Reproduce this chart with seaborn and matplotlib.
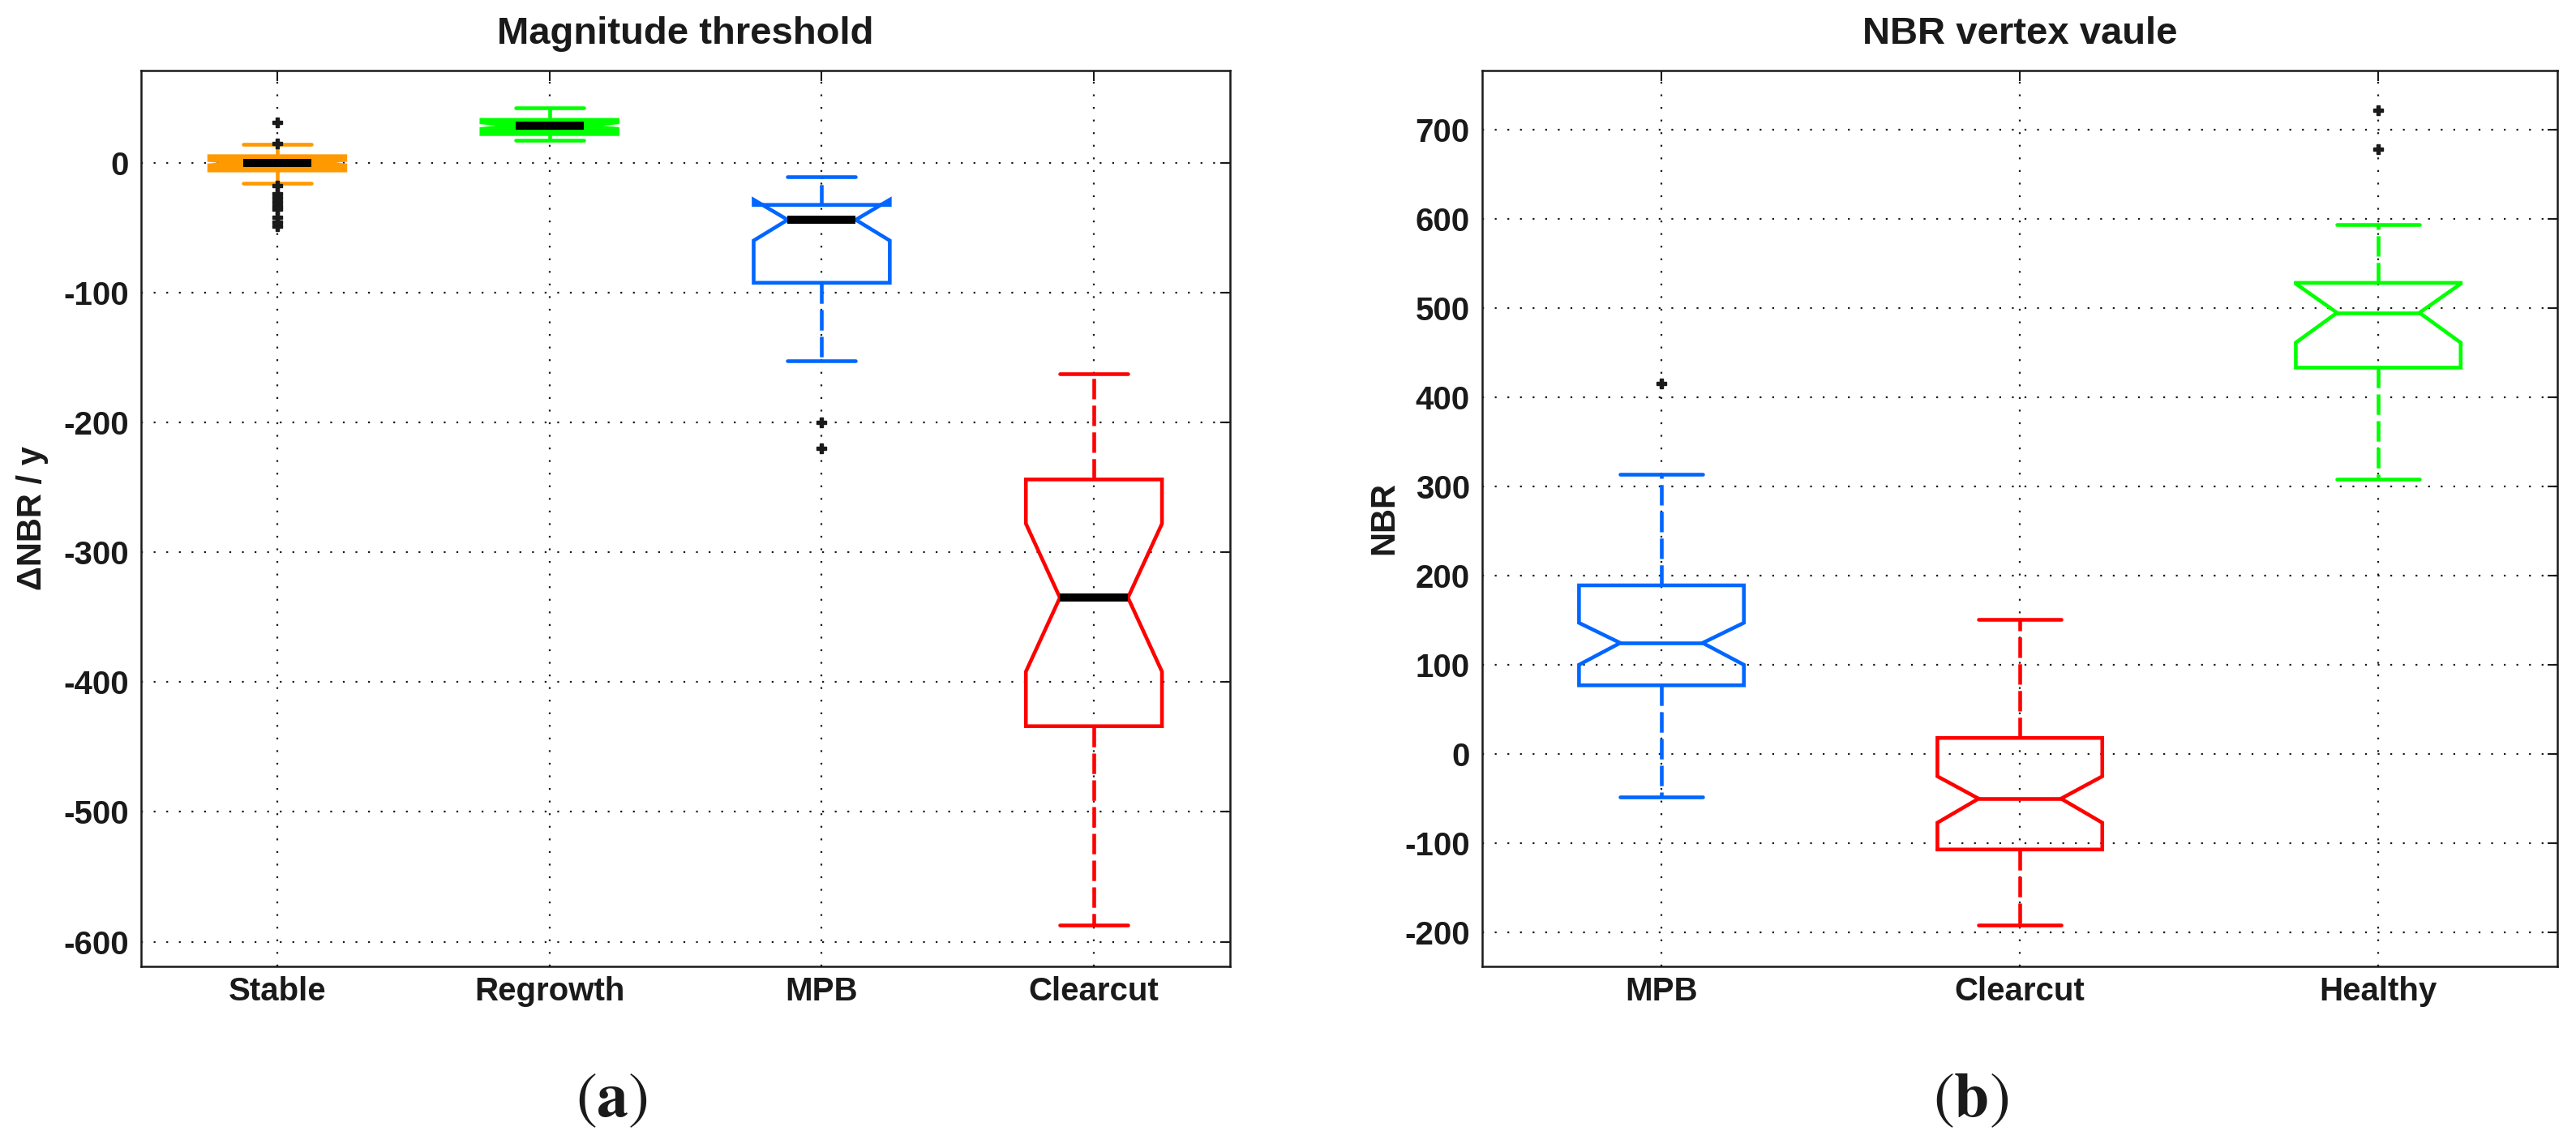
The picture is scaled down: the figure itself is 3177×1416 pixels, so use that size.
import numpy as np
import pandas as pd
import seaborn as sns
import matplotlib.pyplot as plt

sns.set_theme(style="white")
plt.rcParams['font.family'] = ['Liberation Sans', 'DejaVu Sans']
plt.rcParams['mathtext.fontset'] = 'stix'
plt.rcParams['axes.unicode_minus'] = False
plt.rcParams['text.color'] = 'k'
plt.rcParams['axes.labelcolor'] = 'k'
plt.rcParams['axes.titlecolor'] = 'k'

# (a) Magnitude threshold
mag_labels = ["Stable", "Regrowth", "MPB", "Clearcut"]
mag_whislo = [-16, 17.5, -152.5, -587]
mag_q1 = [-6, 22, -92.5, -434]
mag_cilo = [-2, 26, -60, -392]
mag_med = [0, 28.5, -44, -335]
mag_cihi = [2, 31, -28.5, -278]
mag_q3 = [5, 33, -32.5, -244]
mag_whishi = [14, 42, -11, -162.5]
mag_fliers = [[31, 15, -18, -24, -27, -30, -33, -36, -42, -46, -49], [], [-200, -220], []]
mag_colors = ["#FF9900", "#00FF00", "#0066FF", "#FF0000"]
mag_filled = [True, True, False, False]

# (b) NBR vertex value
nbr_labels = ["MPB", "Clearcut", "Healthy"]
nbr_whislo = [-48, -192, 308]
nbr_q1 = [77, -107, 433]
nbr_cilo = [100, -77, 461]
nbr_med = [124.5, -50, 494.5]
nbr_cihi = [147, -25, 527]
nbr_q3 = [189, 18, 528]
nbr_whishi = [313.5, 151, 593.5]
nbr_fliers = [[415], [], [721, 678]]
nbr_colors = ["#0066FF", "#FF0000", "#00FF00"]
nbr_filled = [False, False, False]

LW = 3.3


def draw_boxes(ax, labels, whislo, q1, cilo, med, cihi, q3, whishi, fliers,
               colors, filled, width, median_black):
    for i in range(len(labels)):
        st = dict(label=labels[i], whislo=whislo[i], q1=q1[i], cilo=cilo[i],
                  med=med[i], cihi=cihi[i], q3=q3[i], whishi=whishi[i],
                  fliers=fliers[i])
        c = colors[i]
        ax.bxp([st], positions=[i + 1], widths=width, shownotches=True,
               patch_artist=True, manage_ticks=False,
               boxprops=dict(facecolor=c if filled[i] else 'none', edgecolor=c, linewidth=LW),
               whiskerprops=dict(color=c, linewidth=LW, linestyle=(0, (5.5, 1.7))),
               capprops=dict(color=c, linewidth=LW),
               medianprops=dict(color='black' if median_black else c,
                                linewidth=7.2 if median_black else LW),
               flierprops=dict(marker='P', markerfacecolor='k', markeredgecolor='k',
                               markersize=9, linestyle='none'))
    ax.set_xlim(0.5, len(labels) + 0.5)
    ax.set_xticks(range(1, len(labels) + 1))
    ax.set_xticklabels(labels, fontweight='bold')
    ax.grid(True, color='k', linestyle=(0, (1, 6)), linewidth=1.6)
    ax.set_axisbelow(True)
    ax.tick_params(axis='both', direction='in', length=9, width=1.5, top=True, right=True,
                   labelsize=29, colors='k')
    ax.tick_params(axis='x', pad=9)
    ax.tick_params(axis='y', pad=11)
    for lab in ax.get_yticklabels():
        lab.set_fontweight('bold')
    for sp in ax.spines.values():
        sp.set_color('k')
        sp.set_linewidth(1.8)


fig = plt.figure(figsize=(31.77, 14.16), dpi=100)
ax1 = fig.add_axes([0.0548, 0.1582, 0.4227, 0.7804])
ax2 = fig.add_axes([0.5754, 0.1582, 0.4174, 0.7804])

draw_boxes(ax1, mag_labels, mag_whislo, mag_q1, mag_cilo, mag_med, mag_cihi, mag_q3,
           mag_whishi, mag_fliers, mag_colors, mag_filled, 0.5, True)
ax1.set_ylim(-619, 71)
ax1.set_yticks(np.arange(-600, 1, 100))
ax1.set_yticklabels([str(v) for v in np.arange(-600, 1, 100)], fontweight='bold')
ax1.set_title("Magnitude threshold", fontsize=34, fontweight='bold', pad=24, color='k')
ax1.set_ylabel("ΔNBR / y", fontsize=30, fontweight='bold')
ax1.yaxis.set_label_coords(-0.085, 0.5)

draw_boxes(ax2, nbr_labels, nbr_whislo, nbr_q1, nbr_cilo, nbr_med, nbr_cihi, nbr_q3,
           nbr_whishi, nbr_fliers, nbr_colors, nbr_filled, 0.46, False)
ax2.set_ylim(-238, 766)
ax2.set_yticks(np.arange(-200, 701, 100))
ax2.set_yticklabels([str(v) for v in np.arange(-200, 701, 100)], fontweight='bold')
ax2.set_title("NBR vertex vaule", fontsize=34, fontweight='bold', pad=24, color='k')
ax2.set_ylabel("NBR", fontsize=30, fontweight='bold')
ax2.yaxis.set_label_coords(-0.076, 0.5)

fig.text(0.2376, 0.0417, r'$(\mathbf{a})$', fontsize=56, ha='center', va='center')
fig.text(0.765, 0.0417, r'$(\mathbf{b})$', fontsize=56, ha='center', va='center')

fig.savefig("out.png", dpi=100, facecolor='white')
